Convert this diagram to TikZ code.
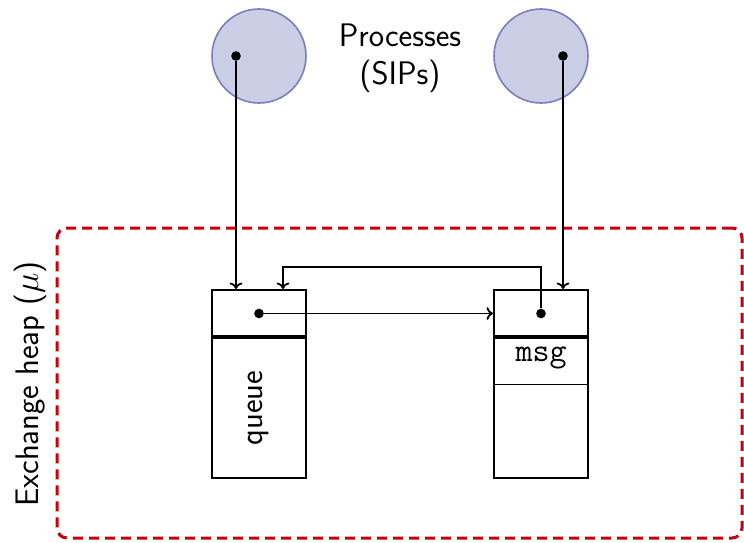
\documentclass[tikz,border=0pt]{standalone}
\usetikzlibrary{calc,arrows.meta}
\definecolor{procfill}{RGB}{203,207,229}
\definecolor{procdraw}{RGB}{122,128,190}
\definecolor{heapred}{RGB}{200,0,16}
\begin{document}
\begin{tikzpicture}[x=0.5pt,y=-0.5pt,
  every node/.style={font=\sffamily\fontsize{16.3}{19}\selectfont},
  proc/.style={circle,fill=procfill,draw=procdraw,line width=0.8pt,minimum size=47pt,inner sep=0pt},
  dotc/.style={circle,fill=black,inner sep=0pt,minimum size=4.8pt},
  membox/.style={draw,line width=1pt,minimum width=47pt,inner sep=0pt},
  link/.style={line width=0.9pt,-{To[length=3.2pt,width=6.4pt]}},
  heapbox/.style={draw=heapred,dashed,dash pattern=on 5pt off 3pt,line width=1.5pt,rounded corners=5pt,
    minimum width=342.5pt,minimum height=155pt,inner sep=0pt}]
\useasboundingbox (0,0) rectangle (744,542);

% exchange heap region
\node[heapbox] (heap) at (399.5,383) {};
\node[rotate=90] (heaplabel) at (30,384) {Exchange heap ($\mu$)};

% processes
\node[proc] (p1) at (259,56) {};
\node[proc] (p2) at (541,56) {};
\node[dotc] (d1) at (236,56) {};
\node[dotc] (d2) at (563,56) {};
\node[align=center] (plabel) at (400,58) {Processes\\(SIPs)};

% queue object
\node[membox,minimum height=94pt] (qbox) at (259,384) {};
\draw[line width=1.6pt] (212,337) -- (306,337);
\node[dotc] (qdot) at (259,313.5) {};
\node[rotate=90] (qlabel) at (258,408) {queue};

% message object
\node[membox,minimum height=94pt] (mbox) at (541,384) {};
\draw[line width=1.6pt] (494,337) -- (588,337);
\draw[line width=0.4pt] (494,384) -- (588,384);
\node[dotc] (mdot) at (541,313.5) {};
\node[font=\ttfamily\fontsize{16.5}{19}\selectfont] (mlabel) at (541,358) {msg};

% pointers
\draw[link] (d1) -- (d1 |- qbox.north);
\draw[link] (d2) -- (d2 |- mbox.north);
\draw[link] (qdot) -- (qdot -| mbox.west);
\coordinate (back) at (283,267);
\draw[link] (mdot) |- (back) -- (back |- qbox.north);
\end{tikzpicture}
\end{document}
